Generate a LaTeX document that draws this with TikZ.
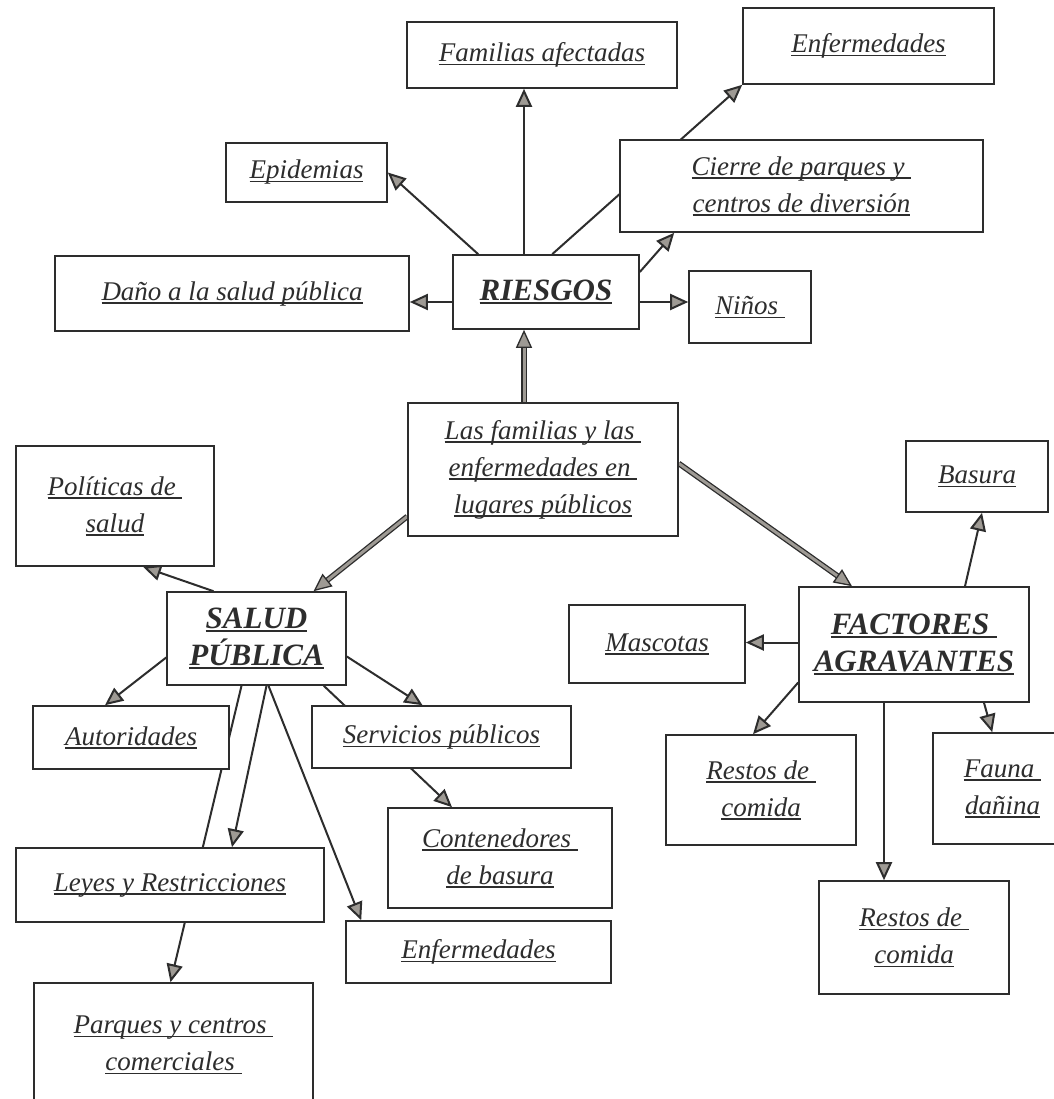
\documentclass[tikz,border=0pt]{standalone}
\usepackage{fontspec}
\setmainfont{Liberation Serif}
\usepackage{tikz}
\usetikzlibrary{arrows.meta,backgrounds}
\definecolor{ink}{RGB}{45,45,45}
\definecolor{tipgray}{RGB}{158,154,148}
% underline that crosses the descenders, as in the scan
\newcommand{\ulrule}[2]{\setbox0\hbox{#2}\rlap{\rule[-3.5pt]{\wd0}{#1}}\box0}
\newcommand{\uline}[1]{\ulrule{1.3pt}{#1}}
\newcommand{\hul}[1]{\ulrule{2.2pt}{#1}}

\begin{document}
\begin{tikzpicture}[x=1pt, y=-1pt,
  box/.style 2 args={draw=ink, fill=white, line width=1.6pt, align=center, text=ink,
    font=\fontsize{27}{37}\selectfont\itshape, inner sep=0pt,
    minimum width=#1pt, minimum height=#2pt},
  head/.style 2 args={box={#1}{#2}, font=\fontsize{31}{37}\selectfont\bfseries\itshape},
  arrow/.style={-{Triangle[length=18pt, width=16pt, fill=tipgray]}, draw=ink, line width=2pt},
  fat/.style={arrow, double=tipgray, double distance=3pt, line width=1.3pt}]
  \useasboundingbox (0,0) rectangle (1053,1099);
  % riesgos
  \node[box={270}{66}] (fam) at (542,55) {\uline{Familias afectadas}};
  \node[box={251}{76}] (enfa) at (868.5,46) {\uline{Enfermedades}};
  \node[box={161}{59}] (epi) at (306.5,172.5) {\uline{Epidemias}};
  \node[box={363}{92}] (cie) at (801.5,186) {\uline{Cierre de parques y\ }\\\uline{centros de diversión}};
  \node[box={354}{75}] (dan) at (232,293.5) {\uline{Daño a la salud pública}};
  \node[head={186}{74}] (rie) at (546,292) {\hul{RIESGOS}};
  \node[box={122}{72}] (nin) at (750,307) {\uline{Niños\ }};
  % centro
  \node[box={270}{133}] (las) at (543,469.5) {\uline{Las familias y las\ }\\\uline{enfermedades en\ }\\\uline{lugares públicos}};
  % salud publica
  \node[box={198}{120}] (pol) at (115,506) {\uline{Políticas de\ }\\\uline{salud}};
  \node[head={179}{93}] (sal) at (256.5,638.5) {\hul{SALUD}\\\hul{PÚBLICA}};
  \node[box={196}{63}] (aut) at (131,737.5) {\uline{Autoridades}};
  \node[box={259}{62}] (ser) at (441.5,737) {\uline{Servicios públicos}};
  \node[box={224}{100}] (con) at (500,858) {\uline{Contenedores\ }\\\uline{de basura}};
  \node[box={308}{74}] (ley) at (170,885) {\uline{Leyes y Restricciones}};
  \node[box={265}{62}] (enfb) at (478.5,952) {\uline{Enfermedades}};
  \node[box={279}{124}] (par) at (173.5,1045) {\uline{Parques y centros\ }\\\uline{comerciales\ }};
  % factores
  \node[box={142}{71}] (bas) at (977,476.5) {\uline{Basura}};
  \node[head={230}{115}] (fac) at (914,644.5) {\hul{FACTORES\ }\\\hul{AGRAVANTES}};
  \node[box={176}{78}] (mas) at (657,644) {\uline{Mascotas}};
  \node[box={190}{110}] (res1) at (761,790) {\uline{Restos de\ }\\\uline{comida}};
  \node[box={139}{111}] (fau) at (1002.5,788.5) {\uline{Fauna\ }\\\uline{dañina}};
  \node[box={190}{113}] (res2) at (914,937.5) {\uline{Restos de\ }\\\uline{comida}};
  \begin{scope}[on background layer]
    \fill[white] (0,0) rectangle (1053,1099);
    \draw[arrow] ([xshift=-22pt]rie.north) -- ([xshift=-22pt]rie.north |- fam.south);
    \draw[arrow] ([xshift=26pt]rie.north west) -- (epi.east);
    \draw[arrow] ([xshift=100pt]rie.north west) -- (enfa.south west);
    \draw[arrow] ([yshift=20pt]rie.east) -- ([xshift=55pt]cie.south west);
    \draw[arrow] ([yshift=-10pt]rie.west) -- ([yshift=-10pt]rie.west -| dan.east);
    \draw[arrow] ([yshift=-10pt]rie.east) -- ([yshift=-10pt]rie.east -| nin.west);
    \draw[fat] ([xshift=-19pt]las.north) -- ([xshift=-19pt]las.north |- rie.south);
    \draw[fat] ([yshift=-47pt]las.west) -- ([xshift=57pt]sal.north);
    \draw[fat] ([yshift=6pt]las.east) -- ([xshift=-62pt]fac.north);
    \draw[arrow] ([xshift=-43pt]sal.north) -- ([xshift=28pt]pol.south);
    \draw[arrow] ([yshift=-19pt]sal.west) -- ([xshift=-26pt]aut.north);
    \draw[arrow] ([yshift=-18pt]sal.east) -- ([xshift=-19pt]ser.north);
    \draw[arrow] ([xshift=-23pt]sal.south east) -- ([xshift=-48pt]con.north);
    \draw[arrow] ([xshift=10pt]sal.south) -- ([xshift=62pt]ley.north);
    \draw[arrow] ([xshift=-15pt]sal.south) -- ([xshift=-3pt]par.north);
    \draw[arrow] ([xshift=12pt]sal.south) -- ([xshift=16pt]enfb.north west);
    \draw[arrow] ([xshift=51pt]fac.north) -- ([xshift=5pt]bas.south);
    \draw[arrow] ([yshift=2pt]fac.west) -- ([yshift=2pt]fac.west -| mas.east);
    \draw[arrow] ([yshift=-38pt]fac.west) -- ([xshift=-8pt]res1.north);
    \draw[arrow] ([xshift=70pt]fac.south) -- ([xshift=60pt]fau.north west);
    \draw[arrow] ([xshift=-30pt]fac.south) -- ([xshift=-30pt]fac.south |- res2.north);
  \end{scope}
\end{tikzpicture}
\end{document}
